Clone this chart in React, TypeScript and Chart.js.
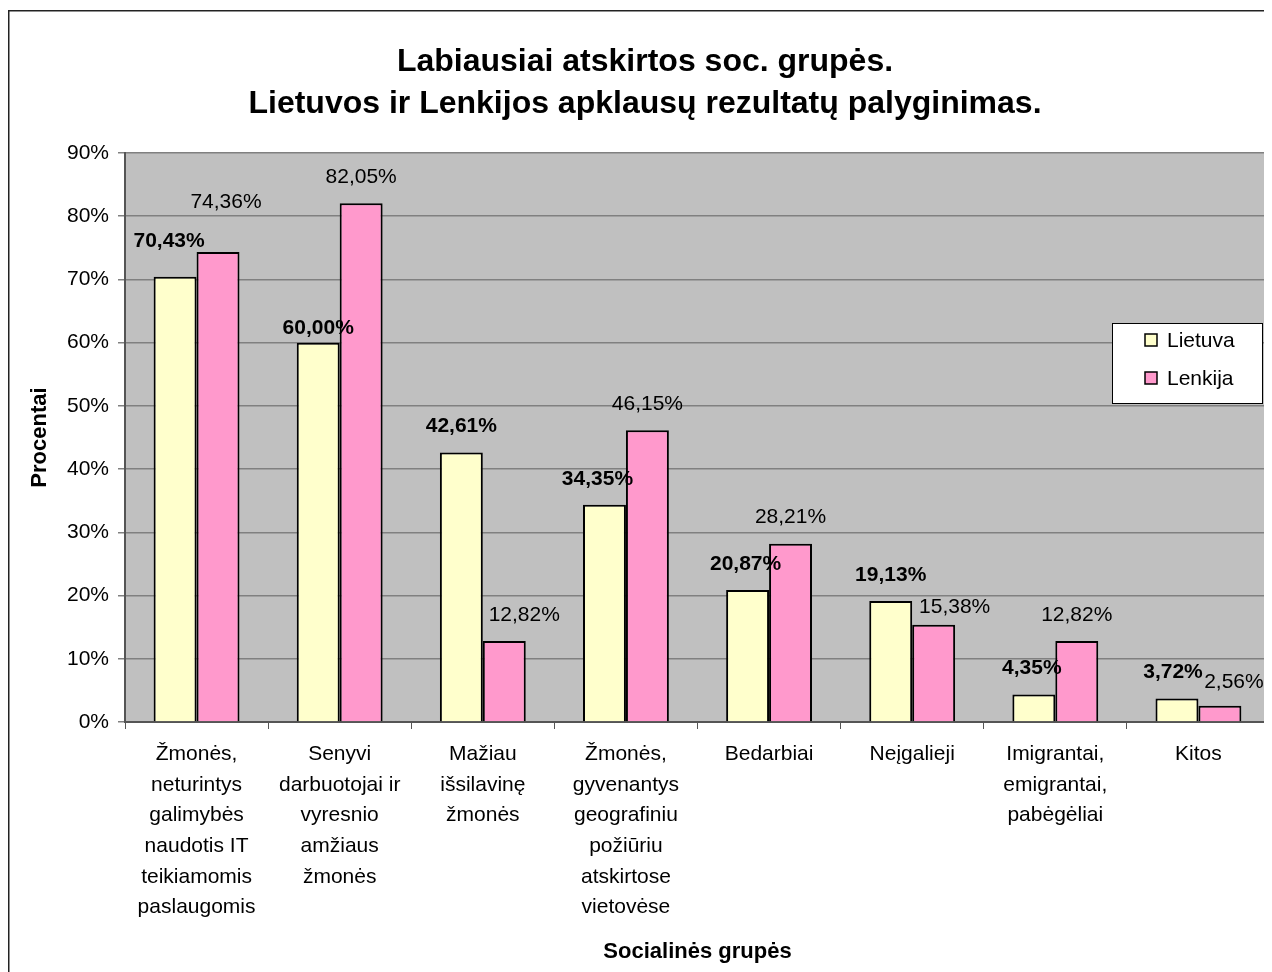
import React, { useEffect, useRef } from "react";
import { Chart, registerables } from "chart.js";

Chart.register(...registerables);

const TITLE_LINES = ["Labiausiai atskirtos soc. grupės.", "Lietuvos ir Lenkijos apklausų rezultatų palyginimas."];
const X_TITLE = "Socialinės grupės";
const Y_TITLE = "Procentai";

const categories: string[][] = [
  ["Žmonės,", "neturintys", "galimybės", "naudotis IT", "teikiamomis", "paslaugomis"],
  ["Senyvi", "darbuotojai ir", "vyresnio", "amžiaus", "žmonės"],
  ["Mažiau", "išsilavinę", "žmonės"],
  ["Žmonės,", "gyvenantys", "geografiniu", "požiūriu", "atskirtose", "vietovėse"],
  ["Bedarbiai"],
  ["Neįgalieji"],
  ["Imigrantai,", "emigrantai,", "pabėgėliai"],
  ["Kitos"],
];

const seriesNames = ["Lietuva", "Lenkija"];
const lietuva = [70.43, 60.0, 42.61, 34.35, 20.87, 19.13, 4.35, 3.72];
const lenkija = [74.36, 82.05, 12.82, 46.15, 28.21, 15.38, 12.82, 2.56];
const yTicks = [0, 10, 20, 30, 40, 50, 60, 70, 80, 90];

// small manual nudges of the value labels (as in the original, dragged by hand) [dx, dy]
const labelNudgeLietuva: [number, number][] = [[-6, -10], [0, 12], [0, 0], [-7, 0], [-2, 0], [0, 0], [-2, 0], [-4, 0]];
const labelNudgeLenkija: [number, number][] = [[8, -24], [0, 0], [20, 0], [0, 0], [0, 0], [21, 8], [0, 0], [14, 2]];

const FONT = "'Liberation Sans', Arial, sans-serif";
const COLORS = ["#FFFFCC", "#FF99CC"];

const fmt = (v: number) => v.toFixed(2).replace(".", ",") + "%";

export default function App() {
  const ref = useRef<HTMLCanvasElement | null>(null);

  useEffect(() => {
    if (!ref.current) return;

    const decor = {
      id: "decor",
      beforeDraw(chart: any) {
        const { ctx, chartArea } = chart;
        ctx.save();
        ctx.fillStyle = "#ffffff";
        ctx.fillRect(0, 0, chart.width, chart.height);
        ctx.fillStyle = "#C0C0C0";
        ctx.fillRect(chartArea.left, chartArea.top, chartArea.right - chartArea.left, chartArea.bottom - chartArea.top);
        ctx.restore();
      },
      afterDraw(chart: any) {
        const { ctx, chartArea } = chart;
        ctx.save();
        // outer border
        ctx.strokeStyle = "#222";
        ctx.lineWidth = 1.5;
        ctx.beginPath();
        ctx.moveTo(0.75, chart.height + 5);
        ctx.lineTo(0.75, 2.75);
        ctx.lineTo(chart.width + 5, 2.75);
        ctx.stroke();
        // right edge of plot
        ctx.strokeStyle = "#808080";
        ctx.lineWidth = 2;
        ctx.beginPath();
        ctx.moveTo(chartArea.right, chartArea.top);
        ctx.lineTo(chartArea.right, chartArea.bottom);
        ctx.stroke();

        // title
        ctx.fillStyle = "#000";
        ctx.textAlign = "center";
        ctx.textBaseline = "middle";
        ctx.font = `bold 32px ${FONT}`;
        ctx.fillText(TITLE_LINES[0], 637, 54);
        ctx.fillText(TITLE_LINES[1], 637, 96);

        // axis titles
        ctx.font = `bold 22px ${FONT}`;
        ctx.fillText(X_TITLE, (chartArea.left + chartArea.right) / 2, 944);
        ctx.save();
        ctx.translate(32, (chartArea.top + chartArea.bottom) / 2);
        ctx.rotate(-Math.PI / 2);
        ctx.fillText(Y_TITLE, 0, 0);
        ctx.restore();

        // data labels
        chart.data.datasets.forEach((ds: any, di: number) => {
          const meta = chart.getDatasetMeta(di);
          const nudges = di === 0 ? labelNudgeLietuva : labelNudgeLenkija;
          ctx.font = di === 0 ? `bold 21px ${FONT}` : `21px ${FONT}`;
          meta.data.forEach((bar: any, i: number) => {
            const [dx, dy] = nudges[i];
            ctx.fillText(fmt(ds.data[i]), bar.x + dx, bar.y - 26 + dy);
          });
        });

        // legend
        const lx = 1104, ly = 315, lw = 150, lh = 80;
        ctx.fillStyle = "#ffffff";
        ctx.fillRect(lx, ly, lw, lh);
        ctx.strokeStyle = "#000";
        ctx.lineWidth = 1;
        ctx.strokeRect(lx + 0.5, ly + 0.5, lw, lh);
        ctx.textAlign = "left";
        ctx.font = `21px ${FONT}`;
        seriesNames.forEach((name, i) => {
          const cy = ly + 17 + i * 38;
          ctx.fillStyle = COLORS[i];
          ctx.fillRect(lx + 33, cy - 6, 12, 12);
          ctx.strokeStyle = "#000";
          ctx.lineWidth = 1.5;
          ctx.strokeRect(lx + 33, cy - 6, 12, 12);
          ctx.fillStyle = "#000";
          ctx.fillText(name, lx + 55, cy + 1);
        });
        ctx.restore();
      },
    };

    const chart = new Chart(ref.current, {
      type: "bar",
      data: {
        labels: categories,
        datasets: [
          {
            label: seriesNames[0],
            data: lietuva,
            backgroundColor: COLORS[0],
            borderColor: "#000",
            borderWidth: 2,
            categoryPercentage: 0.6,
            barPercentage: 1.0,
          },
          {
            label: seriesNames[1],
            data: lenkija,
            backgroundColor: COLORS[1],
            borderColor: "#000",
            borderWidth: 2,
            categoryPercentage: 0.6,
            barPercentage: 1.0,
          },
        ],
      },
      options: {
        animation: false,
        responsive: false,
        maintainAspectRatio: false,
        layout: { padding: { top: 145, left: 0, right: 2, bottom: 0 } },
        plugins: {
          legend: { display: false },
          title: { display: false },
          tooltip: { enabled: false },
        },
        scales: {
          x: {
            afterFit: (s: any) => {
              s.height = 250;
            },
            grid: {
              display: true,
              drawOnChartArea: false,
              drawTicks: true,
              tickLength: 7,
              color: "#555",
              offset: true,
            },
            border: { display: true, color: "#555", width: 2 },
            ticks: {
              color: "#000",
              font: { family: FONT, size: 21, lineHeight: 1.46 },
              padding: 10,
              maxRotation: 0,
              autoSkip: false,
            },
          },
          y: {
            min: 0,
            max: 90,
            afterFit: (s: any) => {
              s.width = 117;
            },
            afterBuildTicks: (s: any) => {
              s.ticks = yTicks.map((v) => ({ value: v }));
            },
            grid: {
              color: "#808080",
              lineWidth: 1.5,
              tickLength: 7,
              drawTicks: true,
            },
            border: { display: true, color: "#555", width: 2 },
            ticks: {
              color: "#000",
              font: { family: FONT, size: 21 },
              padding: 9,
              callback: (v: any) => v + "%",
            },
          },
        },
      },
      plugins: [decor],
    });

    return () => chart.destroy();
  }, []);

  return (
    <div style={{ width: 1264, height: 964 }}>
      <canvas ref={ref} width={1264} height={964} style={{ display: "block" }} />
    </div>
  );
}
